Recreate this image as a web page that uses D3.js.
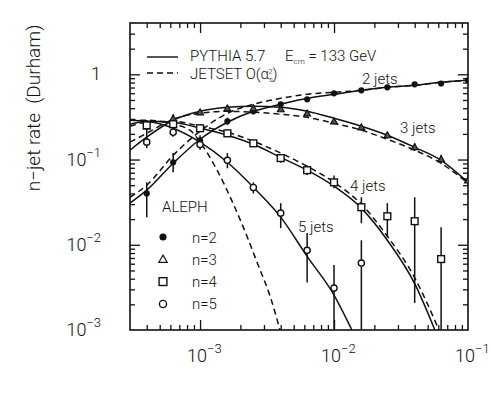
<!DOCTYPE html>
<html>
<head>
<meta charset="utf-8">
<script src="https://cdn.jsdelivr.net/npm/d3@7"></script>
<style>
  body { margin: 0; background: #fff; }
  text { font-family: Roboto, "Liberation Sans", sans-serif; font-weight: 300; fill: #111; }
</style>
</head>
<body>
<svg id="chart"></svg>
<script>
// measured points (ALEPH), x = y_cut
var xPts = [0.0004, 0.00063, 0.001, 0.0016, 0.0025, 0.004, 0.0063, 0.01, 0.016, 0.025, 0.04, 0.063, 0.1];

var rate2 = [0.040, 0.093, 0.168, 0.281, 0.368, 0.445, 0.509, 0.599, 0.649, 0.704, 0.763, 0.78, 0.85];
var lo2   = [0.021, 0.071, 0.136, 0.255, 0.34, 0.42, 0.48, 0.57, 0.62, 0.67, 0.73, 0.75, 0.82];
var hi2   = [0.054, 0.119, 0.193, 0.31, 0.40, 0.47, 0.54, 0.63, 0.68, 0.74, 0.80, 0.81, 0.88];

var rate3 = [0.246, 0.305, 0.359, 0.399, 0.40, 0.39, 0.349, 0.281, 0.239, 0.193, 0.140, 0.101, 0.057];
var lo3   = [0.183, 0.27, 0.33, 0.37, 0.37, 0.36, 0.32, 0.26, 0.22, 0.176, 0.126, 0.089, 0.049];
var hi3   = [0.29, 0.34, 0.39, 0.43, 0.43, 0.42, 0.38, 0.30, 0.26, 0.21, 0.155, 0.114, 0.066];

var rate4 = [0.252, 0.26, 0.233, 0.203, 0.155, 0.104, 0.075, 0.054, 0.0276, 0.0216, 0.0189, 0.0068];
var lo4   = [0.22, 0.23, 0.21, 0.185, 0.14, 0.092, 0.066, 0.046, 0.0179, 0.0123, 0.00207, 0.0008];
var hi4   = [0.28, 0.29, 0.26, 0.22, 0.17, 0.116, 0.085, 0.065, 0.0361, 0.0308, 0.0361, 0.0161];

var rate5 = [0.160, 0.209, 0.150, 0.098, 0.047, 0.0235, 0.0086, 0.0031, 0.0061];
var lo5   = [0.136, 0.185, 0.13, 0.079, 0.040, 0.0157, 0.0036, 0.0008, 0.0008];
var hi5   = [0.183, 0.235, 0.17, 0.119, 0.054, 0.0308, 0.0137, 0.0058, 0.0113];

// model curves
var curveX  = [0.0003, 0.0004, 0.00063, 0.001, 0.0016, 0.0025, 0.004, 0.0063, 0.01, 0.016, 0.025, 0.04, 0.063, 0.1];
var pythia2 = [0.0308, 0.0437, 0.0905, 0.173, 0.274, 0.368, 0.445, 0.523, 0.583, 0.649, 0.704, 0.743, 0.806, 0.850];
var jetset2 = [0.0361, 0.050, 0.112, 0.215, 0.349, 0.445, 0.523, 0.583, 0.615, 0.649, 0.704, 0.743, 0.806, 0.850];
var pythia3 = [0.129, 0.183, 0.289, 0.368, 0.410, 0.422, 0.410, 0.368, 0.305, 0.246, 0.193, 0.139, 0.098, 0.054];
var jetset3 = [0.160, 0.203, 0.297, 0.349, 0.368, 0.359, 0.340, 0.313, 0.267, 0.221, 0.173, 0.129, 0.0905, 0.0527];

var pythia4X = [0.0003, 0.0004, 0.00063, 0.001, 0.0016, 0.0025, 0.004, 0.0063, 0.01, 0.016, 0.025, 0.04, 0.0566];
var pythia4  = [0.259, 0.281, 0.274, 0.233, 0.193, 0.151, 0.106, 0.075, 0.0486, 0.0269, 0.0113, 0.0035, 0.001];
var jetset4X = [0.0003, 0.0004, 0.00063, 0.001, 0.0016, 0.0025, 0.004, 0.0063, 0.01, 0.016, 0.025, 0.04, 0.0607];
var jetset4  = [0.246, 0.274, 0.281, 0.246, 0.209, 0.164, 0.119, 0.0834, 0.0542, 0.0299, 0.0126, 0.0041, 0.001];

var pythia5X = [0.0003, 0.0004, 0.00063, 0.001, 0.0016, 0.0025, 0.004, 0.0063, 0.01, 0.0136];
var pythia5  = [0.289, 0.281, 0.233, 0.160, 0.093, 0.0473, 0.0211, 0.0073, 0.00257, 0.001];
var jetset5X = [0.0003, 0.0004, 0.00063, 0.00084, 0.001, 0.00134, 0.00176, 0.00224, 0.0027, 0.00333, 0.00395];
var jetset5  = [0.289, 0.289, 0.259, 0.221, 0.160, 0.075, 0.0308, 0.0126, 0.0059, 0.0025, 0.001];

// tick labels
var xTickVals = [0.001, 0.01, 0.1];
var xTickExp = ["\u22123", "\u22122", "\u22121"];
var yTickVals = [1, 0.1, 0.01, 0.001];
var yTickExp = ["", "\u22121", "\u22122", "\u22123"];

var legendLabels = ["n=2", "n=3", "n=4", "n=5"];
var jetLabels = ["2 jets", "3 jets", "4 jets", "5 jets"];

var w = 491, h = 394;
var padL = 130, padR = 468, padT = 23, padB = 330;

var svg = d3.select("#chart").attr("width", w).attr("height", h);

var xScale = d3.scaleLog().domain([3e-4, 0.1]).range([padL, padR]);
var yScale = d3.scaleLog().domain([1e-3, 4]).range([padB, padT]);

function minorTicks(dom){
  var t = [];
  for (var e = -5; e <= 1; e++) {
    for (var m = 2; m <= 9; m++) {
      var v = m * Math.pow(10, e);
      if (v > dom[0] * 1.0001 && v < dom[1] * 0.9999) t.push(v);
    }
  }
  return t;
}
var xMinor = minorTicks(xScale.domain());
var yMinor = minorTicks(yScale.domain());
var xMajor = [0.001, 0.01];
var yMajor = [0.01, 0.1, 1];

function tickAxis(gen, scale, vals, size, tx, ty){
  svg.append("g")
    .attr("class", "ticks")
    .attr("transform", "translate(" + tx + "," + ty + ")")
    .call(gen(scale).tickValues(vals).tickSize(-size).tickFormat(""))
    .call(function(g){ g.select(".domain").remove(); })
    .selectAll("line")
    .attr("stroke", "#111")
    .attr("stroke-width", 1.3);
}
tickAxis(d3.axisBottom, xScale, xMinor, 5, 0, padB);
tickAxis(d3.axisBottom, xScale, xMajor, 10, 0, padB);
tickAxis(d3.axisTop, xScale, xMinor, 5, 0, padT);
tickAxis(d3.axisTop, xScale, xMajor, 10, 0, padT);
tickAxis(d3.axisLeft, yScale, yMinor, 5, padL, 0);
tickAxis(d3.axisLeft, yScale, yMajor, 10, padL, 0);
tickAxis(d3.axisRight, yScale, yMinor, 5, padR, 0);
tickAxis(d3.axisRight, yScale, yMajor, 10, padR, 0);

svg.append("rect")
  .attr("x", padL).attr("y", padT)
  .attr("width", padR - padL).attr("height", padB - padT)
  .attr("fill", "none")
  .attr("stroke", "#111")
  .attr("stroke-width", 1.6);

svg.append("clipPath").attr("id", "plotclip")
  .append("rect")
  .attr("x", padL).attr("y", padT)
  .attr("width", padR - padL).attr("height", padB - padT);

var plot = svg.append("g").attr("clip-path", "url(#plotclip)");

// curves
var line = d3.line()
  .x(function(d){ return xScale(d[0]); })
  .y(function(d){ return yScale(d[1]); })
  .curve(d3.curveMonotoneX);

var curves = [
  {xs: curveX, ys: pythia2, dash: null},
  {xs: curveX, ys: jetset2, dash: "6,4"},
  {xs: curveX, ys: pythia3, dash: null},
  {xs: curveX, ys: jetset3, dash: "6,4"},
  {xs: pythia4X, ys: pythia4, dash: null},
  {xs: jetset4X, ys: jetset4, dash: "6,4"},
  {xs: pythia5X, ys: pythia5, dash: null},
  {xs: jetset5X, ys: jetset5, dash: "6,4"}
];

plot.selectAll("path.model")
  .data(curves)
  .enter()
  .append("path")
  .attr("class", "model")
  .attr("d", function(c){
    return line(c.xs.map(function(x, i){ return [x, c.ys[i]]; }));
  })
  .attr("fill", "none")
  .attr("stroke", "#111")
  .attr("stroke-width", 1.5)
  .attr("stroke-dasharray", function(c){ return c.dash; });

// data points
var series = [
  {vals: rate2, lo: lo2, hi: hi2, shape: "dot"},
  {vals: rate3, lo: lo3, hi: hi3, shape: "tri"},
  {vals: rate4, lo: lo4, hi: hi4, shape: "sq"},
  {vals: rate5, lo: lo5, hi: hi5, shape: "circ"}
];

function drawMarker(g, shape, x, y, big){
  var s = big ? 1.15 : 1;
  if (shape == "dot") {
    g.append("circle").attr("cx", x).attr("cy", y).attr("r", 3.1 * s)
      .attr("fill", "#111");
  } else if (shape == "circ") {
    g.append("circle").attr("cx", x).attr("cy", y).attr("r", 3.1 * s)
      .attr("fill", "#fff").attr("stroke", "#111").attr("stroke-width", 1.4);
  } else if (shape == "sq") {
    g.append("rect").attr("x", x - 3.4 * s).attr("y", y - 3.4 * s)
      .attr("width", 6.8 * s).attr("height", 6.8 * s)
      .attr("fill", "#fff").attr("stroke", "#111").attr("stroke-width", 1.4);
  } else {
    g.append("path")
      .attr("transform", "translate(" + x + "," + (y + 0.6) + ")")
      .attr("d", d3.symbol().type(d3.symbolTriangle).size(big ? 30 : 20)())
      .attr("fill", big ? "#fff" : "#555").attr("stroke", "#111").attr("stroke-width", 1.2);
  }
}

series.forEach(function(s){
  s.vals.forEach(function(v, i){
    plot.append("line")
      .attr("x1", xScale(xPts[i])).attr("x2", xScale(xPts[i]))
      .attr("y1", yScale(Math.max(s.lo[i], 1e-4))).attr("y2", yScale(s.hi[i]))
      .attr("stroke", "#111")
      .attr("stroke-width", 1.5);
  });
});
series.forEach(function(s){
  s.vals.forEach(function(v, i){
    drawMarker(plot, s.shape, xScale(xPts[i]), yScale(v), false);
  });
});

// tick labels
xTickVals.forEach(function(v, i){
  var t = svg.append("text")
    .attr("x", xScale(v) - 13)
    .attr("y", 362)
    .attr("font-size", "18px");
  t.append("tspan").text("10");
  t.append("tspan").attr("dy", -9).attr("font-size", "13px").text(xTickExp[i]);
});
yTickVals.forEach(function(v, i){
  var t = svg.append("text")
    .attr("x", 101)
    .attr("y", yScale(v) + 6)
    .attr("text-anchor", "end")
    .attr("font-size", "18px");
  if (yTickExp[i] == "") {
    t.text("1");
  } else {
    t.append("tspan").text("10");
    t.append("tspan").attr("dy", -9).attr("font-size", "13px").text(yTickExp[i]);
  }
});

svg.append("text")
  .attr("transform", "rotate(-90)")
  .attr("x", -108)
  .attr("y", 40)
  .attr("text-anchor", "middle")
  .attr("font-size", "19px")
  .style("white-space", "pre")
  .text("n\u2212jet rate  (Durham)");

// legend: model lines
svg.append("line").attr("x1", 147).attr("x2", 178).attr("y1", 57).attr("y2", 57)
  .attr("stroke", "#111").attr("stroke-width", 1.4);
svg.append("line").attr("x1", 147).attr("x2", 178).attr("y1", 73).attr("y2", 73)
  .attr("stroke", "#111").attr("stroke-width", 1.4).attr("stroke-dasharray", "6,4");

svg.append("text").attr("x", 190).attr("y", 61).attr("font-size", "15px").text("PYTHIA 5.7");
var js = svg.append("text").attr("x", 190).attr("y", 79).attr("font-size", "15px");
js.append("tspan").text("JETSET O(\u03b1");
js.append("tspan").attr("dy", 3).attr("font-size", "8px").text("s");
js.append("tspan").attr("dx", -5).attr("dy", -8).attr("font-size", "8px").text("2");
js.append("tspan").attr("dy", 5).text(")");

var ecm = svg.append("text").attr("x", 285).attr("y", 61).attr("font-size", "15px");
ecm.append("tspan").text("E");
ecm.append("tspan").attr("dy", 3).attr("font-size", "8px").text("cm");
ecm.append("tspan").attr("dy", -3).text(" = 133 GeV");

// jet multiplicity labels
var jetPos = [[362, 84], [400, 133], [350, 191], [298, 232]];
jetLabels.forEach(function(l, i){
  svg.append("text").attr("x", jetPos[i][0]).attr("y", jetPos[i][1])
    .attr("font-size", "15px").text(l);
});

svg.append("text").attr("x", 162).attr("y", 212).attr("font-size", "15px").text("ALEPH");

var shapes = ["dot", "tri", "sq", "circ"];
legendLabels.forEach(function(l, i){
  var y = 237 + i * 22.3;
  drawMarker(svg, shapes[i], 163, y, true);
  svg.append("text").attr("x", 192).attr("y", y + 5.5)
    .attr("font-size", "15px").text(l);
});
</script>
</body>
</html>
